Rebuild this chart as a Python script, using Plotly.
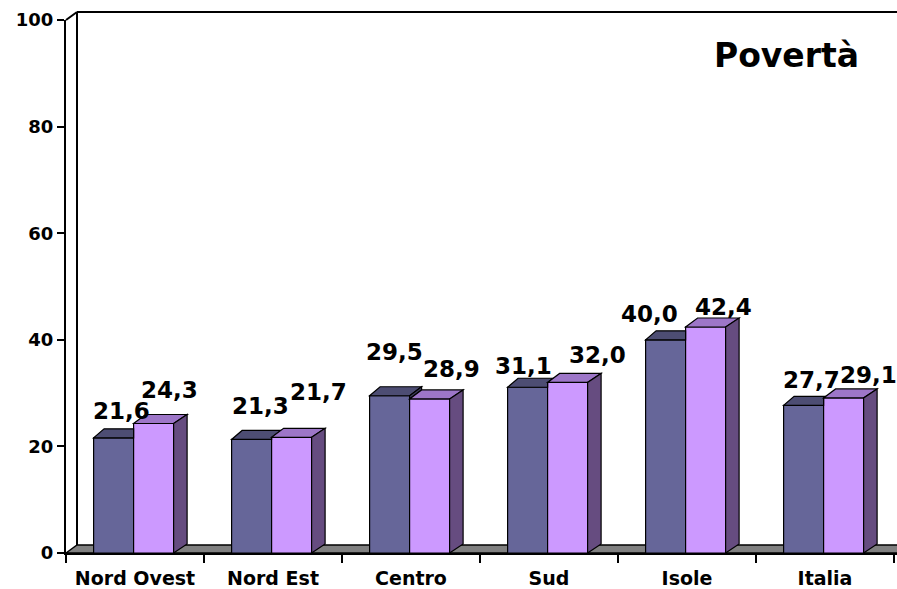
import plotly.graph_objects as go

# ---------------- data ----------------
categories = ["Nord Ovest", "Nord Est", "Centro", "Sud", "Isole", "Italia"]
serie_a = [21.6, 21.3, 29.5, 31.1, 40.0, 27.7]   # dark bars
serie_b = [24.3, 21.7, 28.9, 32.0, 42.4, 29.1]   # light bars
y_ticks = [0, 20, 40, 60, 80, 100]
title_text = "Povertà"

# ---------------- layout constants (pixels) ----------------
FIG_W, FIG_H = 897, 589
ML, MR, MT, MB = 66, 0, 20, 36
PLOT_W = FIG_W - ML - MR
PLOT_H = FIG_H - MT - MB
CAT_PX = 138.0
X_MAX = PLOT_W / CAT_PX
Y_MAX = 100.0
PX_PER_Y = PLOT_H / Y_MAX

BAR_PX = 40.0
BW = BAR_PX / CAT_PX
SHIFT = 1.4 / CAT_PX
DXL, DXM, DXR = 10.5 / CAT_PX, 12.0 / CAT_PX, 13.5 / CAT_PX
DY = 9.0 / PX_PER_Y
WALL_DX, WALL_DY = 11.0, 8.0

DARK, DARK_TOP, DARK_SIDE = "#666699", "#4d4d73", "#3d3d5c"
LIGHT, LIGHT_TOP, LIGHT_SIDE = "#cc99ff", "#9d76c8", "#664c80"
FONT = "DejaVu Sans, Verdana, sans-serif"

# label offsets (pixels) relative to bar centre / top
lab_a_dx = [8, 9, 5, -4, -16, 8]
lab_a_dy = [27, 33, 44, 21, 26, 25]
lab_b_dx = [16, 27, 22, 30, 18, 25]
lab_b_dy = [33, 45, 30, 27, 20, 23]

centers = [i + 0.5 for i in range(len(categories))]

fig = go.Figure()
fig.add_trace(go.Bar(x=centers, y=serie_a, width=BW, offset=-BW - SHIFT,
                     marker=dict(color=DARK, line=dict(color="black", width=1.2)),
                     name="A", hoverinfo="y"))
fig.add_trace(go.Bar(x=centers, y=serie_b, width=BW, offset=-SHIFT,
                     marker=dict(color=LIGHT, line=dict(color="black", width=1.2)),
                     name="B", hoverinfo="y"))


def poly(pts):
    return "M " + " L ".join(f"{x:.5f},{y:.5f}" for x, y in pts) + " Z"


shapes = []


def face(pts, color):
    shapes.append(dict(type="path", xref="x", yref="y", path=poly(pts),
                       fillcolor=color, line=dict(color="black", width=1.2),
                       layer="above"))


for c, a, b in zip(centers, serie_a, serie_b):
    xa0 = c - BW - SHIFT
    xa1 = c - SHIFT
    xb1 = xa1 + BW
    # dark top (visible portion)
    if b >= a + DY:
        face([(xa0, a), (xa1, a), (xa1, a + DY), (xa0 + DXL, a + DY)], DARK_TOP)
    elif b >= a:
        face([(xa0, a), (xa1, a), (xa1, b),
              (xa1 + (a + DY - b) * DXM / DY, a + DY), (xa0 + DXL, a + DY)], DARK_TOP)
    else:
        face([(xa0, a), (xa1, a), (xa1 + DXM, a + DY), (xa0 + DXL, a + DY)], DARK_TOP)
        # visible part of dark side above the light bar
        face([(xa1, b), (xa1, a), (xa1 + DXM, a + DY), (xa1 + DXM, b + DY)], DARK_SIDE)
    # light top and side
    face([(xa1, b), (xb1, b), (xb1 + DXR, b + DY), (xa1 + DXM, b + DY)], LIGHT_TOP)
    face([(xb1, 0), (xb1 + DXR, DY), (xb1 + DXR, b + DY), (xb1, b)], LIGHT_SIDE)

# floor and walls (paper coordinates computed from pixel geometry)
wx = WALL_DX / PLOT_W
wy = WALL_DY / PLOT_H
shapes.insert(0, dict(type="path", xref="paper", yref="paper",
                      path=poly([(0, 0), (wx, wy), (1.02, wy), (1.02, 0)]),
                      fillcolor="#808080", line=dict(color="black", width=1.5),
                      layer="below"))
for x0, y0, x1, y1 in [(wx, wy, wx, 1 + wy), (0, 1, wx, 1 + wy), (wx, 1 + wy, 1.02, 1 + wy)]:
    shapes.append(dict(type="line", xref="paper", yref="paper", x0=x0, y0=y0, x1=x1, y1=y1,
                       line=dict(color="black", width=2), layer="below"))

annotations = []


def fmt(v):
    return f"{v:.1f}".replace(".", ",")


for i, c in enumerate(centers):
    annotations.append(dict(x=c - BW / 2 - SHIFT, y=serie_a[i], xref="x", yref="y",
                            text=fmt(serie_a[i]), showarrow=False,
                            xanchor="center", yanchor="middle",
                            xshift=lab_a_dx[i], yshift=lab_a_dy[i],
                            font=dict(family=FONT, size=23, color="black", weight="bold")))
    annotations.append(dict(x=c + BW / 2 - SHIFT, y=serie_b[i], xref="x", yref="y",
                            text=fmt(serie_b[i]), showarrow=False,
                            xanchor="center", yanchor="middle",
                            xshift=lab_b_dx[i], yshift=lab_b_dy[i],
                            font=dict(family=FONT, size=23, color="black", weight="bold")))

annotations.append(dict(x=(786.5 - ML) / PLOT_W, y=(FIG_H - MB - 55.5) / PLOT_H,
                        xref="paper", yref="paper", text=title_text, showarrow=False,
                        xanchor="center", yanchor="middle",
                        font=dict(family=FONT, size=33, color="black", weight="bold")))

fig.update_layout(
    width=FIG_W, height=FIG_H,
    margin=dict(l=ML, r=MR, t=MT, b=MB, pad=0),
    paper_bgcolor="white", plot_bgcolor="white",
    showlegend=False, barmode="overlay",
    shapes=shapes, annotations=annotations,
    font=dict(family=FONT, color="black"),
)
fig.update_xaxes(range=[0, X_MAX], tickvals=centers, ticktext=categories, ticks="",
                 tickfont=dict(size=19, weight="bold"),
                 showline=True, linecolor="black", linewidth=2,
                 showgrid=False, zeroline=False, ticklabelstandoff=7,
                 minor=dict(tick0=0, dtick=1, ticks="outside", ticklen=8,
                            tickcolor="black", tickwidth=1.5, showgrid=False))
fig.update_yaxes(range=[0, Y_MAX], tickvals=y_ticks, ticks="outside", ticklen=7,
                 tickwidth=1.5, tickcolor="black",
                 tickfont=dict(size=18, weight="bold"),
                 showline=True, linecolor="black", linewidth=2,
                 showgrid=False, zeroline=False)

fig.write_html("out.html",
               config={"displayModeBar": False},
               post_script="document.body.style.margin='0';"
                           "document.body.style.overflow='hidden';")
